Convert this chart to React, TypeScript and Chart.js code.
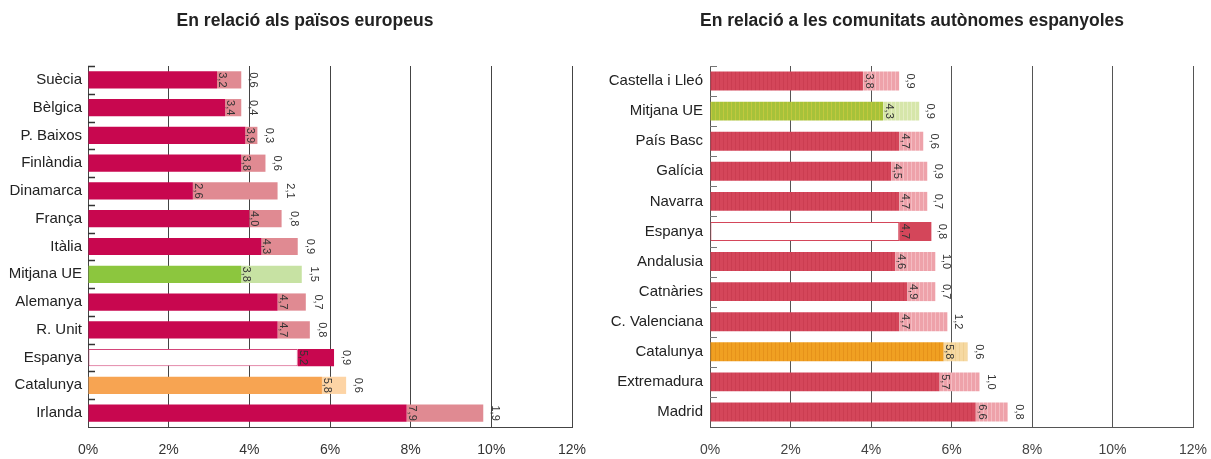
import React, { useEffect, useRef } from "react";
import { Chart, registerables } from "chart.js";
Chart.register(...registerables);

const euTitle = "En relació als països europeus";
const euCategories = ["Suècia", "Bèlgica", "P. Baixos", "Finlàndia", "Dinamarca", "França", "Itàlia", "Mitjana UE", "Alemanya", "R. Unit", "Espanya", "Catalunya", "Irlanda"];
const euBase = [3.2, 3.4, 3.9, 3.8, 2.6, 4.0, 4.3, 3.8, 4.7, 4.7, 5.2, 5.8, 7.9];
const euExtra = [0.6, 0.4, 0.3, 0.6, 2.1, 0.8, 0.9, 1.5, 0.7, 0.8, 0.9, 0.6, 1.9];

const esTitle = "En relació a les comunitats autònomes espanyoles";
const esCategories = ["Castella i Lleó", "Mitjana UE", "País Basc", "Galícia", "Navarra", "Espanya", "Andalusia", "Catnàries", "C. Valenciana", "Catalunya", "Extremadura", "Madrid"];
const esBase = [3.8, 4.3, 4.7, 4.5, 4.7, 4.7, 4.6, 4.9, 4.7, 5.8, 5.7, 6.6];
const esExtra = [0.9, 0.9, 0.6, 0.9, 0.7, 0.8, 1.0, 0.7, 1.2, 0.6, 1.0, 0.8];

const xTicks = [0, 2, 4, 6, 8, 10, 12];

const fmt = (v: number) => v.toFixed(1).replace(".", ",");

function stripe(c1: string, c2: string): CanvasPattern | string {
  const c = document.createElement("canvas");
  c.width = 4;
  c.height = 1;
  const g = c.getContext("2d");
  if (!g) return c1;
  g.fillStyle = c1;
  g.fillRect(0, 0, 4, 1);
  g.fillStyle = c2;
  g.fillRect(3, 0, 1, 1);
  return g.createPattern(c, "repeat") || c1;
}

type Palette = {
  main: any; light: any; green: any; greenLight: any; orange: any; orangeLight: any;
  spainBorder: string; spainExtra: any;
};

type Cfg = {
  categories: string[];
  base: number[];
  extra: number[];
  title: string;
  titleX: number;
  axisLeft: number;
  padRight: number;
  palette: Palette;
  gridColor: string;
  tickMarkColor: string;
  tickMarkLen: number;
  tickMarkWidth: number;
  labelPad: number;
  barPct: number;
  baseOff: number;
  extraOff: number;
  tickColor: string;
};

function buildChart(canvas: HTMLCanvasElement, cfg: Cfg) {
  const p = cfg.palette;
  const baseColors = cfg.categories.map((c) =>
    c === "Mitjana UE" ? p.green : c === "Catalunya" ? p.orange : c === "Espanya" ? "#ffffff" : p.main
  );
  const extraColors = cfg.categories.map((c) =>
    c === "Mitjana UE" ? p.greenLight : c === "Catalunya" ? p.orangeLight : c === "Espanya" ? p.spainExtra : p.light
  );
  const baseBorderW = cfg.categories.map((c) => (c === "Espanya" ? 1 : 0));

  const overlay = {
    id: "overlay",
    afterDatasetsDraw(chart: any) {
      const ctx = chart.ctx as CanvasRenderingContext2D;
      const area = chart.chartArea;
      const n = cfg.categories.length;
      ctx.save();
      // category boundary tick marks
      ctx.strokeStyle = cfg.tickMarkColor;
      ctx.lineWidth = cfg.tickMarkWidth;
      for (let i = 0; i < n; i++) {
        const y = Math.round(area.top + (i * (area.bottom - area.top)) / n) + 0.5;
        ctx.beginPath();
        ctx.moveTo(area.left, y);
        ctx.lineTo(area.left + cfg.tickMarkLen, y);
        ctx.stroke();
      }
      // value labels
      ctx.fillStyle = "#333333";
      ctx.font = "11px 'Liberation Sans', Arial, sans-serif";
      ctx.textAlign = "center";
      ctx.textBaseline = "middle";
      const m0 = chart.getDatasetMeta(0).data;
      const m1 = chart.getDatasetMeta(1).data;
      for (let i = 0; i < n; i++) {
        const b0 = m0[i];
        const b1 = m1[i];
        const drawRot = (x: number, y: number, t: string) => {
          ctx.save();
          ctx.translate(x, y);
          ctx.rotate(Math.PI / 2);
          ctx.fillText(t, 0, 0);
          ctx.restore();
        };
        drawRot(b0.x + cfg.baseOff, b0.y, fmt(cfg.base[i]));
        drawRot(b1.x + cfg.extraOff, b1.y, fmt(cfg.extra[i]));
      }
      // title
      ctx.fillStyle = "#222222";
      ctx.font = "bold 17.5px 'Liberation Sans', Arial, sans-serif";
      ctx.textAlign = "center";
      ctx.textBaseline = "middle";
      ctx.fillText(cfg.title, cfg.titleX, 21);
      ctx.restore();
    },
  };

  return new Chart(canvas, {
    type: "bar",
    data: {
      labels: cfg.categories,
      datasets: [
        {
          data: cfg.base,
          backgroundColor: baseColors,
          borderColor: p.spainBorder,
          borderWidth: baseBorderW,
          borderSkipped: false,
          barPercentage: cfg.barPct,
          categoryPercentage: 1,
        },
        {
          data: cfg.extra,
          backgroundColor: extraColors,
          borderWidth: 0,
          barPercentage: cfg.barPct,
          categoryPercentage: 1,
        },
      ],
    },
    options: {
      indexAxis: "y",
      responsive: false,
      animation: false,
      events: [],
      layout: { padding: { top: 66, left: 0, right: cfg.padRight, bottom: 0 } },
      plugins: { legend: { display: false }, tooltip: { enabled: false }, title: { display: false } },
      scales: {
        x: {
          type: "linear",
          stacked: true,
          min: 0,
          max: 12,
          afterBuildTicks: (s: any) => {
            s.ticks = xTicks.map((v) => ({ value: v }));
          },
          afterFit: (s: any) => {
            s.height = 32;
            s.paddingLeft = 0;
            s.paddingRight = 0;
          },
          grid: { color: cfg.gridColor, lineWidth: 1, drawTicks: false },
          border: { display: true, color: cfg.gridColor, width: 1 },
          ticks: {
            padding: 15,
            color: cfg.tickColor,
            font: { family: "'Liberation Sans', Arial, sans-serif", size: 14 },
            callback: (v: any) => v + "%",
            maxRotation: 0,
          },
        },
        y: {
          type: "category",
          stacked: true,
          offset: true,
          afterFit: (s: any) => {
            s.width = cfg.axisLeft;
            s.paddingTop = 0;
            s.paddingBottom = 0;
          },
          grid: { display: false, drawTicks: false },
          border: { display: true, color: cfg.gridColor, width: 1 },
          ticks: {
            padding: cfg.labelPad,
            color: "#222222",
            font: { family: "'Liberation Sans', Arial, sans-serif", size: 15 },
            autoSkip: false,
          },
        },
      },
    } as any,
    plugins: [overlay],
  });
}

export default function App() {
  const leftRef = useRef<HTMLCanvasElement>(null);
  const rightRef = useRef<HTMLCanvasElement>(null);

  useEffect(() => {
    if (!leftRef.current || !rightRef.current) return;
    const euPalette: Palette = {
      main: "#c8074f",
      light: "#e08a92",
      green: "#8cc63e",
      greenLight: "#c7e2a3",
      orange: "#f7a452",
      orangeLight: "#fdd4a5",
      spainBorder: "#d4457a",
      spainExtra: "#c8074f",
    };
    const esPalette: Palette = {
      main: stripe("#d4465a", "#cb3d51"),
      light: stripe("#eea2aa", "#f4bcc2"),
      green: stripe("#a6c23a", "#c2c83e"),
      greenLight: stripe("#d6e6aa", "#e4edc2"),
      orange: stripe("#f0a022", "#e6921a"),
      orangeLight: stripe("#f6d9a2", "#f0cf92"),
      spainBorder: "#d4465a",
      spainExtra: "#d4465a",
    };
    const c1 = buildChart(leftRef.current, {
      categories: euCategories,
      base: euBase,
      extra: euExtra,
      title: euTitle,
      titleX: 305,
      axisLeft: 88,
      padRight: 28,
      palette: euPalette,
      gridColor: "#444444",
      tickMarkColor: "#333333",
      tickMarkLen: 7,
      tickMarkWidth: 1.5,
      labelPad: 6,
      barPct: 0.62,
      baseOff: 5,
      extraOff: 12,
      tickColor: "#333333",
    });
    const c2 = buildChart(rightRef.current, {
      categories: esCategories,
      base: esBase,
      extra: esExtra,
      title: esTitle,
      titleX: 312,
      axisLeft: 110,
      padRight: 18,
      palette: esPalette,
      gridColor: "#555555",
      tickMarkColor: "#777777",
      tickMarkLen: 7,
      tickMarkWidth: 1,
      labelPad: 7,
      barPct: 0.63,
      baseOff: 6,
      extraOff: 11,
      tickColor: "#444444",
    });
    return () => {
      c1.destroy();
      c2.destroy();
    };
  }, []);

  return (
    <div style={{ position: "fixed", left: 0, top: 0, width: 1211, height: 459, background: "#ffffff", overflow: "hidden" }}>
      <canvas ref={leftRef} width={600} height={459} style={{ position: "absolute", left: 0, top: 0, display: "block" }} />
      <canvas ref={rightRef} width={611} height={459} style={{ position: "absolute", left: 600, top: 0, display: "block" }} />
    </div>
  );
}
